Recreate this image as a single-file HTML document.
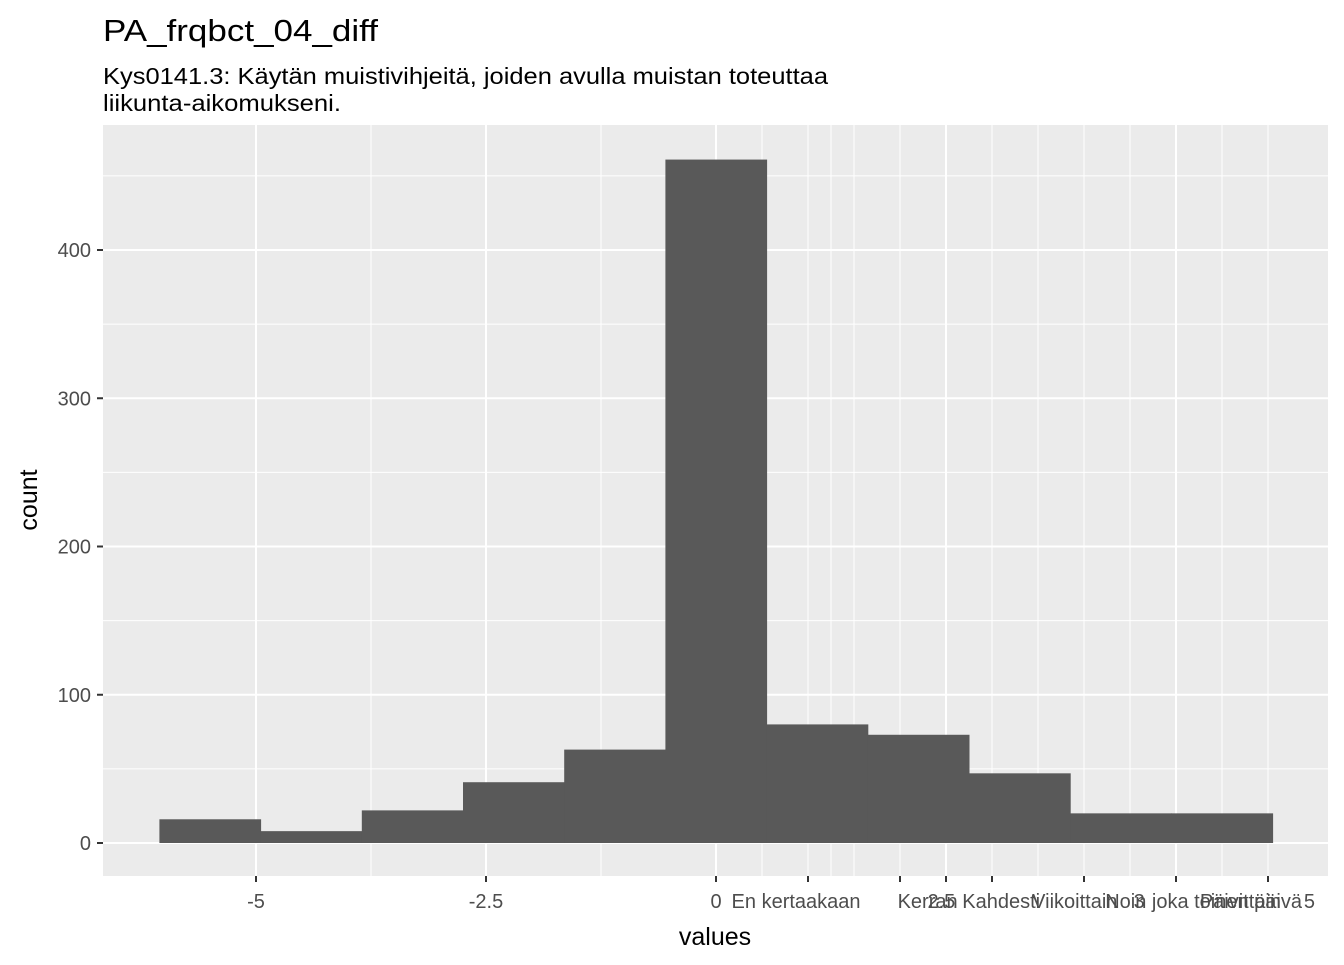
<!DOCTYPE html>
<html><head><meta charset="utf-8"><style>
body{margin:0;background:#fff;font-family:"Liberation Sans",sans-serif}
</style></head><body>
<svg width="1344" height="960" xmlns="http://www.w3.org/2000/svg" font-family="Liberation Sans, sans-serif">
<text x="103" y="41" font-size="31" fill="#000" textLength="275" lengthAdjust="spacingAndGlyphs">PA_frqbct_04_diff</text>
<text x="103" y="84" font-size="23" fill="#000" textLength="725" lengthAdjust="spacingAndGlyphs">Kys0141.3: Käytän muistivihjeitä, joiden avulla muistan toteuttaa</text>
<text x="103" y="111" font-size="23" fill="#000" textLength="238" lengthAdjust="spacingAndGlyphs">liikunta-aikomukseni.</text>
<rect x="103" y="125" width="1225" height="751" fill="#ebebeb"/>
<g id="grid"></g><g id="bars"></g><g id="axes"></g>
<text x="715" y="945" font-size="25" text-anchor="middle" fill="#000">values</text>
<text transform="translate(37,500) rotate(-90)" font-size="25" text-anchor="middle" fill="#000">count</text>
</svg>
<script>
const binStart = -6.05;
const binWidth = 1.1;
const counts = [16, 8, 22, 41, 63, 461, 80, 73, 47, 20, 20];
const yTicks = [0, 100, 200, 300, 400];
const yMinor = [50, 150, 250, 350, 450];
const xMajor = [-5, -2.5, 0, 2.5, 5];
const xMinor = [-3.75, -1.25, 0.5, 1, 1.25, 1.5, 2, 3, 3.5, 4, 4.5, 5.5, 6];
const xTickVals = [-5, -2.5, 0, 1, 2, 2.5, 3, 4, 5, 6];
const xLabelVals = [-5, -2.5, 0, 0.87, 2.3, 2.45, 3.1, 3.9, 4.6, 5.3, 5.7, 6.45];
const xLabels = ["-5", "-2.5", "0", "En kertaakaan", "Kerran", "2.5", "Kahdesti", "Viikoittain", "3", "Noin joka toinen päivä", "Päivittäin", "5"];
const NS = "http://www.w3.org/2000/svg";
const xs = v => 716 + v * 92;
const ys = v => 843 - v * 1.4825;
function mk(tag, attrs, parent) {
  const e = document.createElementNS(NS, tag);
  for (const k in attrs) e.setAttribute(k, attrs[k]);
  document.getElementById(parent).appendChild(e);
  return e;
}
yMinor.forEach(v => {
  const l = mk("line", {x1:103, x2:1328, y1:ys(v), y2:ys(v), stroke:"#fff", "stroke-width":1}, "grid");
  
  
});
xMinor.forEach(v => {
  const l = mk("line", {x1:xs(v), x2:xs(v), y1:125, y2:876, stroke:"#fff", "stroke-width":1}, "grid");
  
  
});
yTicks.forEach(v => {
  const l = mk("line", {x1:103, x2:1328, y1:ys(v), y2:ys(v), stroke:"#fff", "stroke-width":2}, "grid");
  
  
  const t = mk("line", {x1:97, x2:103, y1:ys(v), y2:ys(v), stroke:"#333", "stroke-width":2}, "axes");
  
  
  const tx = mk("text", {x:91, y:ys(v)+7, "font-size":20, "text-anchor":"end", fill:"#4d4d4d"}, "axes");
  tx.textContent = v;
  
  
});
xMajor.forEach(v => {
  const l = mk("line", {x1:xs(v), x2:xs(v), y1:125, y2:876, stroke:"#fff", "stroke-width":2}, "grid");
  
  
});
xTickVals.forEach(v => {
  const t = mk("line", {x1:xs(v), x2:xs(v), y1:876, y2:882, stroke:"#333", "stroke-width":2}, "axes");
  
  
});
xLabels.forEach((s, i) => {
  const tx = mk("text", {x:xs(xLabelVals[i]), y:908, "font-size":20, "text-anchor":"middle", fill:"#4d4d4d"}, "axes");
  tx.textContent = s;
  
  
});
counts.forEach((c, i) => {
  const x0 = xs(binStart + i * binWidth), x1 = xs(binStart + (i + 1) * binWidth);
  const r = mk("rect", {x:x0, y:ys(c), width:x1 - x0 + 0.5, height:ys(0) - ys(c), fill:"#595959"}, "bars");
  
  
});
</script>
</body></html>
